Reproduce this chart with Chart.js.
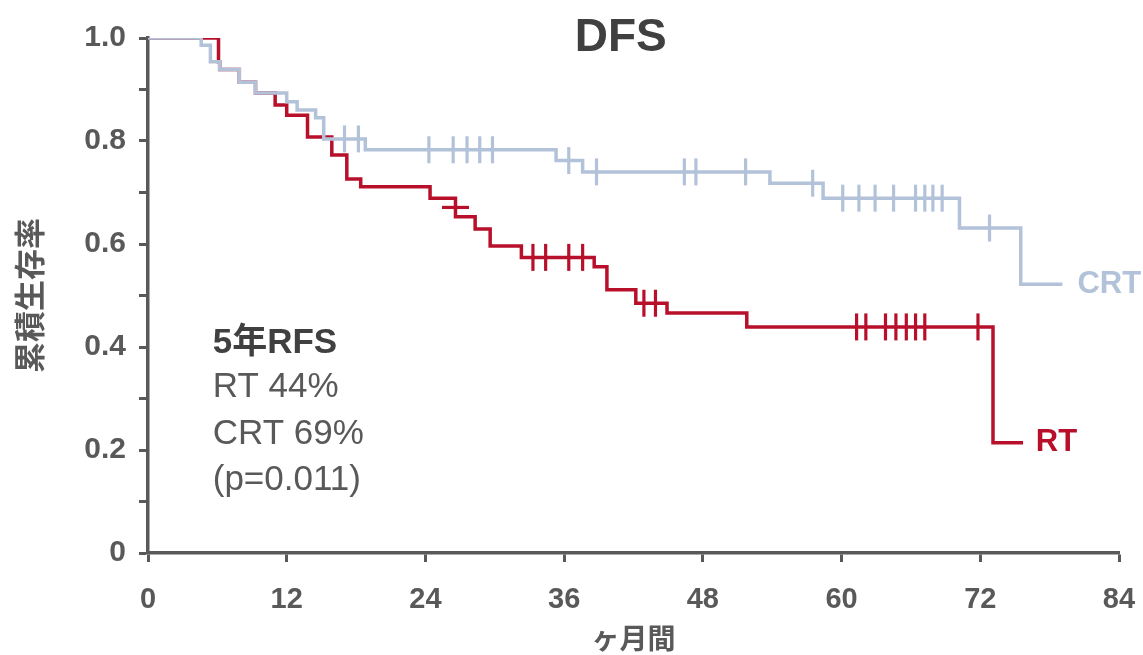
<!DOCTYPE html>
<html><head><meta charset="utf-8">
<script src="https://cdn.jsdelivr.net/npm/chart.js@4.4.1/dist/chart.umd.min.js"></script>
<style>html,body{margin:0;padding:0;background:#fff}#wrap{width:1143px;height:655px;position:relative}</style>
</head><body><div id="wrap"><canvas id="c"></canvas></div>
<script>
// ---- data ----
const crtMonths = [0, 4.6, 5.4, 6.2, 7.9, 9.3, 12.0, 12.9, 14.5, 15.2, 18.8, 35.3, 37.6, 53.8, 58.4, 70.2, 75.5, 79.1];
const crtSurv   = [1.0, 0.986, 0.954, 0.939, 0.914, 0.893, 0.876, 0.860, 0.845, 0.804, 0.783, 0.762, 0.740, 0.718, 0.689, 0.631, 0.522, 0.522];
const crtCensor = [17.0, 18.2, 24.3, 26.4, 27.6, 28.7, 29.8, 36.4, 38.8, 46.4, 47.4, 51.7, 57.5, 60.1, 61.5, 62.9, 64.5, 66.4, 67.2, 67.9, 68.7, 72.8];
const rtMonths  = [0, 6.1, 6.2, 7.9, 9.3, 11.0, 12.0, 13.8, 15.9, 17.2, 18.4, 24.4, 26.6, 28.3, 29.6, 32.3, 38.6, 39.7, 42.2, 44.9, 51.8, 73.1, 75.7];
const rtSurv    = [1.0, 0.954, 0.939, 0.914, 0.893, 0.870, 0.850, 0.808, 0.773, 0.726, 0.711, 0.689, 0.653, 0.629, 0.596, 0.574, 0.556, 0.511, 0.485, 0.466, 0.439, 0.214, 0.214];
const rtCensor  = [33.3, 34.4, 36.4, 37.6, 42.9, 43.9, 61.3, 62.1, 63.8, 64.7, 65.6, 66.4, 67.2, 71.8];
const rtCensorOnDropMonths = [26.6];
const rtCensorOnDropSurv = [0.671];
const xTicks = [0, 12, 24, 36, 48, 60, 72, 84];
const yLabels = ['0', '0.2', '0.4', '0.6', '0.8', '1.0'];
const seriesNames = ['CRT', 'RT'];
const chartTitle = 'DFS';
const statsLines = ['5年RFS', 'RT 44%', 'CRT 69%', '(p=0.011)'];
const xTitle = 'ヶ月間';
const yTitle = '累積生存率';

// ---- styles ----
const RED = '#b8102b', BLUE = '#b2c2d9', AXIS = '#595959', TXT = '#595959', DARK = '#404040';
const FAM = '"Liberation Sans", Arial, "Noto Sans CJK JP", sans-serif';
const CJK = '"Noto Sans CJK JP", "Liberation Sans", sans-serif';

function survAt(months, surv, t) { let v = surv[0]; for (let i = 0; i < months.length; i++) if (months[i] <= t) v = surv[i]; return v; }
const pts = (xs, ys) => xs.map((x, i) => ({x, y: ys[i]}));

const annotCfg = {
  title: {x: 40.9, y: 1.0, size: 46},
  stats: {x: 5.6, y: [0.408, 0.322, 0.230, 0.141], size: 35},
  labels: [{x: 80.4, y: 0.522, color: BLUE}, {x: 76.8, y: 0.214, color: RED}],
  labelSize: 31
};

const annotPlugin = {
  id: 'annot',
  afterDraw(chart) {
    const {ctx, scales: {x, y}} = chart;
    ctx.save();
    ctx.textBaseline = 'middle';
    ctx.textAlign = 'center';
    ctx.fillStyle = DARK;
    ctx.font = `bold ${annotCfg.title.size}px ${FAM}`;
    ctx.fillText(chartTitle, x.getPixelForValue(annotCfg.title.x), y.getPixelForValue(annotCfg.title.y));
    ctx.textAlign = 'left';
    statsLines.forEach((t, i) => {
      ctx.font = (i === 0 ? 'bold ' : '') + `${annotCfg.stats.size}px ${FAM}`;
      ctx.fillStyle = i === 0 ? DARK : TXT;
      ctx.fillText(t, x.getPixelForValue(annotCfg.stats.x), y.getPixelForValue(annotCfg.stats.y[i]));
    });
    ctx.font = `bold ${annotCfg.labelSize}px ${FAM}`;
    seriesNames.forEach((n, i) => {
      const l = annotCfg.labels[i];
      ctx.fillStyle = l.color;
      ctx.fillText(n, x.getPixelForValue(l.x), y.getPixelForValue(l.y));
    });
    ctx.restore();
  }
};

const censorDs = (xs, ys, color, rot, order) => ({
  data: pts(xs, ys), showLine: false, pointStyle: 'line', pointRadius: 13.5, pointRotation: rot,
  pointBorderWidth: 3.2, pointBorderColor: color, borderColor: color, backgroundColor: color, order
});

new Chart(document.getElementById('c'), {
  type: 'line',
  data: {
    datasets: [
      {label: seriesNames[0], data: pts(crtMonths, crtSurv), stepped: 'before', borderColor: BLUE, borderWidth: 3.5, pointRadius: 0, fill: false, order: 1},
      censorDs(crtCensor, crtCensor.map(t => survAt(crtMonths, crtSurv, t)), BLUE, 90, 0),
      {label: seriesNames[1], data: pts(rtMonths, rtSurv), stepped: 'before', borderColor: RED, borderWidth: 3.5, pointRadius: 0, fill: false, order: 3},
      censorDs(rtCensor, rtCensor.map(t => survAt(rtMonths, rtSurv, t)), RED, 90, 2),
      censorDs(rtCensorOnDropMonths, rtCensorOnDropSurv, RED, 0, 2)
    ]
  },
  options: {
    responsive: true, maintainAspectRatio: false, animation: false,
    layout: {padding: {top: 38, right: 24, left: 0, bottom: 0}},
    plugins: {legend: {display: false}, tooltip: {enabled: false}, title: {display: false}},
    scales: {
      x: {
        type: 'linear', min: 0, max: 84,
        afterBuildTicks: s => { s.ticks = xTicks.map(v => ({value: v})); },
        ticks: {color: AXIS, font: {family: FAM, size: 29, weight: 'bold'}, padding: 21, maxRotation: 0, autoSkip: false},
        grid: {display: true, drawOnChartArea: false, drawTicks: true, tickLength: 9, tickWidth: 3, tickColor: AXIS},
        border: {display: true, color: AXIS, width: 3.5},
        title: {display: true, text: xTitle, color: AXIS, font: {family: CJK, size: 28, weight: 'bold'}, padding: {top: 0, bottom: 0}},
        afterFit: s => { s.height = 102; s.paddingLeft = 0; s.paddingRight = 0; }
      },
      y: {
        type: 'linear', min: 0, max: 1,
        ticks: {stepSize: 0.1, autoSkip: false, color: AXIS, font: {family: FAM, size: 30, weight: 'bold'}, padding: 13,
          callback: v => { const k = Math.round(v * 10); return k % 2 ? '' : yLabels[k / 2]; }},
        grid: {display: true, drawOnChartArea: false, drawTicks: true, tickLength: 9, tickWidth: 3, tickColor: AXIS},
        border: {display: true, color: AXIS, width: 3.5},
        title: {display: true, text: yTitle, color: AXIS, font: {family: CJK, size: 31, weight: 'bold'}, padding: {top: 11, bottom: 0}},
        afterFit: s => { s.width = 148; s.paddingTop = 0; s.paddingBottom = 0; }
      }
    }
  },
  plugins: [annotPlugin]
});
</script>
</body></html>
